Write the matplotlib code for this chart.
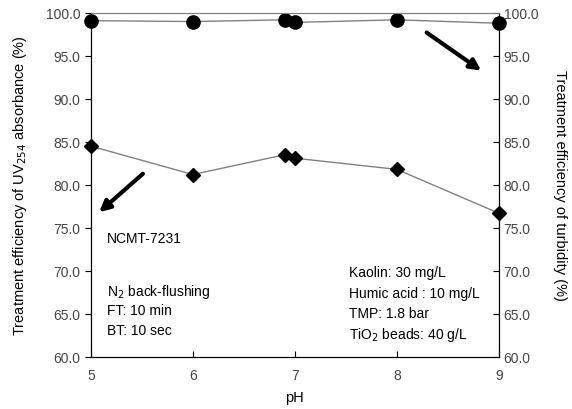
import matplotlib
matplotlib.use('Agg')
import matplotlib.pyplot as plt

plt.rcParams['font.family'] = ['Liberation Sans', 'DejaVu Sans']

ph = [5, 6, 6.9, 7, 8, 9]
uv254 = [84.5, 81.2, 83.5, 83.1, 81.8, 76.7]
turbidity = [99.1, 99.0, 99.2, 98.9, 99.2, 98.8]

fig = plt.figure(figsize=(5.72, 4.10), dpi=100)
ax = fig.add_axes([0.159, 0.1275, 0.713, 0.8385])
ax2 = ax.twinx()

ax.plot(ph, uv254, color='gray', lw=1, marker='D', ms=7, mfc='black', mec='black', zorder=3, clip_on=False)
ax2.plot(ph, turbidity, color='gray', lw=1, marker='o', ms=9.5, mfc='black', mec='black', clip_on=False)

for a in (ax, ax2):
    a.set_ylim(60, 100)
    a.set_yticks([60, 65, 70, 75, 80, 85, 90, 95, 100])
    a.set_yticklabels(['%.1f' % v for v in [60, 65, 70, 75, 80, 85, 90, 95, 100]])
    a.spines['top'].set_color('gray')
ax.set_xlim(5, 9)
ax.set_xticks([5, 6, 7, 8, 9])
ax.tick_params(axis='x', direction='in', length=4, labelsize=10, pad=8, labelcolor='#444444')
ax.tick_params(axis='y', direction='out', length=4, labelsize=10, labelcolor='#444444')
ax2.tick_params(axis='y', direction='in', length=4, labelsize=10, labelcolor='#444444')

ax.set_xlabel('pH', fontsize=10.5, labelpad=6)
ax.set_ylabel('Treatment efficiency of UV$_{254}$ absorbance (%)', fontsize=10.5, labelpad=12)
ax2.set_ylabel('Treatment efficiency of turbidity (%)', fontsize=10.5, rotation=-90, labelpad=21)

ax.annotate('', xy=(5.06, 76.6), xytext=(5.53, 81.5),
            arrowprops=dict(arrowstyle='-|>', lw=3, color='black', mutation_scale=16))
ax.annotate('', xy=(8.85, 93.1), xytext=(8.27, 97.9),
            arrowprops=dict(arrowstyle='-|>', lw=3, color='black', mutation_scale=16))

ax.text(5.16, 73.8, 'NCMT-7231', fontsize=10, va='center')
ax.text(5.16, 67.7, 'N$_2$ back-flushing', fontsize=10, va='center')
ax.text(5.16, 65.4, 'FT: 10 min', fontsize=10, va='center')
ax.text(5.16, 63.1, 'BT: 10 sec', fontsize=10, va='center')
ax.text(7.53, 69.8, 'Kaolin: 30 mg/L', fontsize=10, va='center')
ax.text(7.53, 67.4, 'Humic acid : 10 mg/L', fontsize=10, va='center')
ax.text(7.53, 65.1, 'TMP: 1.8 bar', fontsize=10, va='center')
ax.text(7.53, 62.6, 'TiO$_2$ beads: 40 g/L', fontsize=10, va='center')

fig.savefig('out.png', dpi=100)
